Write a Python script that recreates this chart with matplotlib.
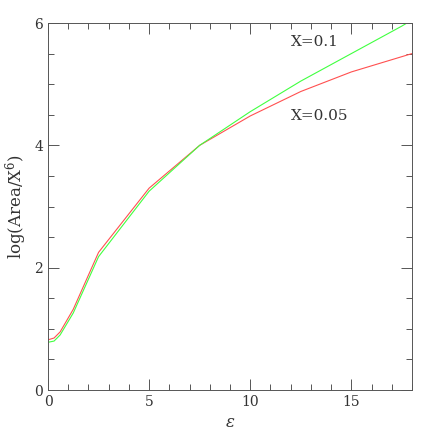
import matplotlib
matplotlib.use("Agg")
import matplotlib.pyplot as plt
from matplotlib.ticker import MultipleLocator

plt.rcParams["font.family"] = ["DejaVu Serif"]
plt.rcParams["mathtext.fontset"] = "dejavuserif"

eps = [0.0, 0.3, 0.6, 1.25, 2.5, 5.0, 7.5, 10.0, 12.5, 15.0, 17.5, 18.0]
area_x005 = [0.82, 0.85, 0.95, 1.32, 2.25, 3.30, 4.00, 4.48, 4.88, 5.20, 5.45, 5.50]
area_x01 = [0.78, 0.80, 0.90, 1.26, 2.18, 3.25, 4.00, 4.55, 5.05, 5.50, 5.95, 6.05]

fig = plt.figure(figsize=(4.36, 4.36), dpi=100)
ax = fig.add_axes([48 / 436, 46 / 436, 364 / 436, 367 / 436])

ax.plot(eps, area_x005, color="#ff5050", linewidth=0.8)
ax.plot(eps, area_x01, color="#40ff40", linewidth=0.8)

ax.text(12, 5.62, "X=0.1", fontsize=11, color="#333333")
ax.text(12, 4.42, "X=0.05", fontsize=11, color="#333333")

ax.set_xlim(0, 18)
ax.set_ylim(0, 6)
ax.xaxis.set_major_locator(MultipleLocator(5))
ax.xaxis.set_minor_locator(MultipleLocator(1))
ax.yaxis.set_major_locator(MultipleLocator(2))
ax.yaxis.set_minor_locator(MultipleLocator(0.5))
for s in ax.spines.values():
    s.set_color("#555555")
    s.set_linewidth(0.7)
ax.tick_params(which="both", direction="in", top=True, right=True, labelsize=10,
               color="#555555", labelcolor="#333333", width=0.7)
ax.tick_params(which="major", length=8)
ax.tick_params(which="minor", length=4)
ax.set_xlabel(r"$\epsilon$", fontsize=12, color="#333333")
ax.set_ylabel(r"log(Area/X$^6$)", fontsize=12, color="#333333")

fig.savefig("out.png", dpi=100)
